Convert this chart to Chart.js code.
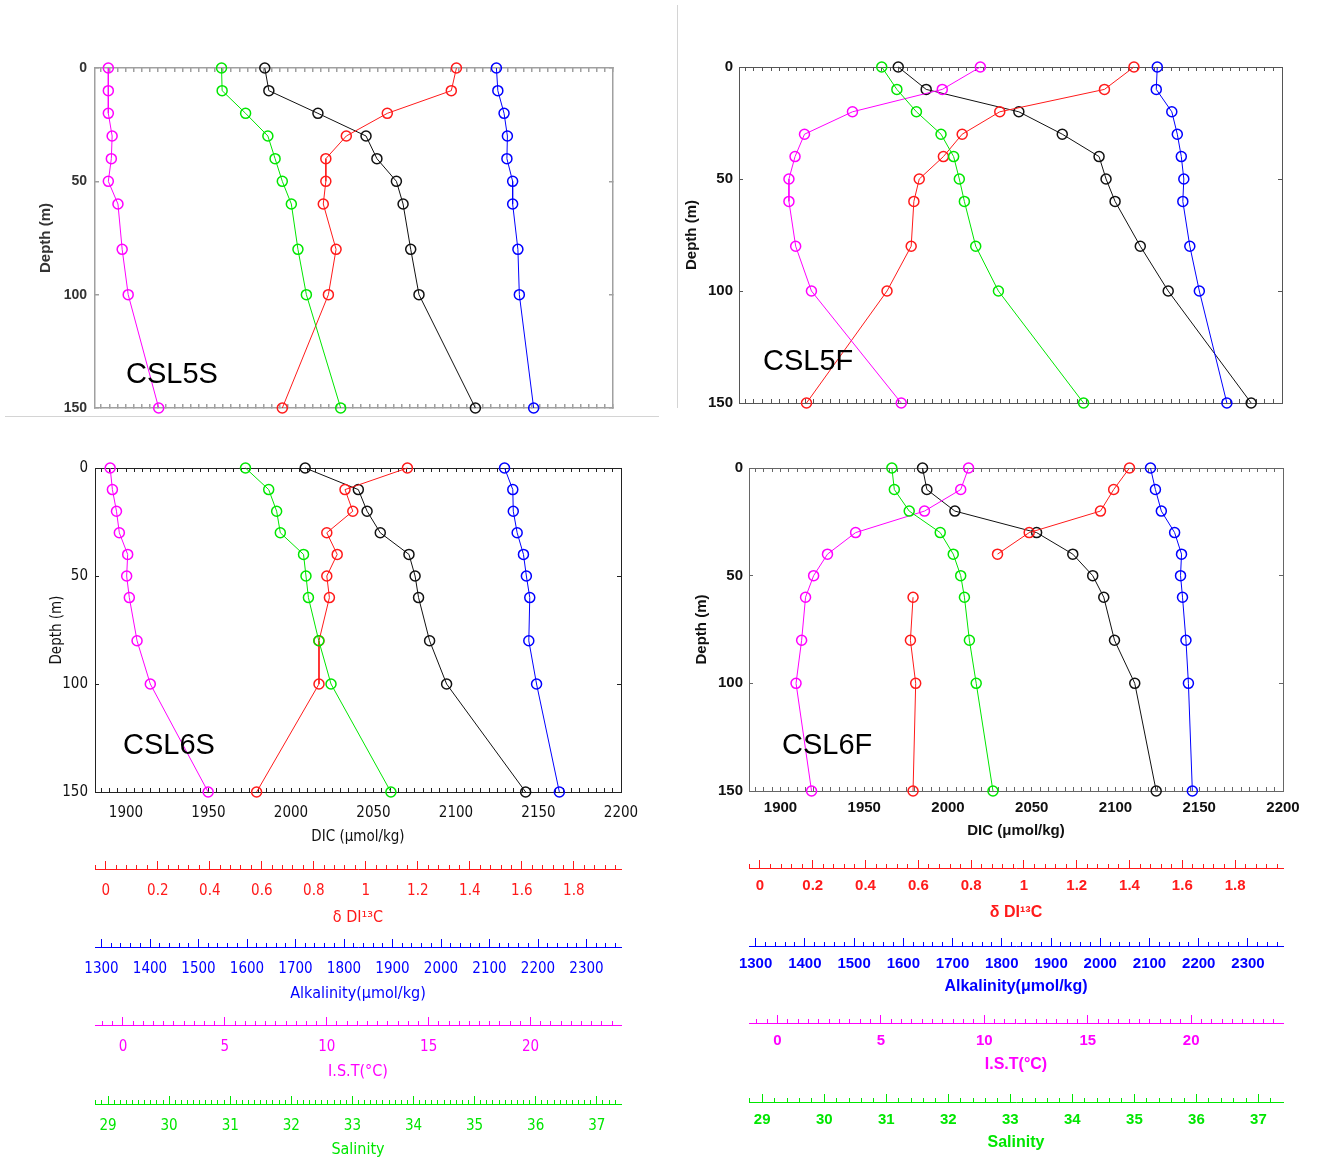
<!DOCTYPE html>
<html>
<head>
<meta charset="utf-8">
<title>CSL depth profiles</title>
<script src="https://cdn.jsdelivr.net/npm/chart.js@4.4.1/dist/chart.umd.min.js"></script>
<style>
  body { margin: 0; background: #fff; width: 1319px; height: 1165px; position: relative; overflow: hidden; }
  canvas { position: absolute; }
  .tag { position: absolute; font-family: 'Liberation Sans', Arial, sans-serif; font-size: 29px; line-height: 1; color: #000; }
  .rule { position: absolute; background: #d4d4d4; }
</style>
</head>
<body>
<div class="rule" style="left:5px;top:416px;width:654px;height:1px"></div>
<div class="rule" style="left:677px;top:5px;width:1px;height:403px"></div>

<canvas id="p5s" width="640" height="390" style="left:0;top:40px"></canvas>
<canvas id="p5f" width="659" height="390" style="left:660px;top:40px"></canvas>
<canvas id="p6s" width="660" height="410" style="left:0;top:440px"></canvas>
<canvas id="p6f" width="659" height="410" style="left:660px;top:440px"></canvas>

<canvas id="aL1" width="650" height="70" style="left:0;top:859px"></canvas>
<canvas id="aL2" width="650" height="70" style="left:0;top:937px"></canvas>
<canvas id="aL3" width="650" height="70" style="left:0;top:1015px"></canvas>
<canvas id="aL4" width="650" height="70" style="left:0;top:1094px"></canvas>
<canvas id="aR1" width="659" height="70" style="left:660px;top:858px"></canvas>
<canvas id="aR2" width="659" height="70" style="left:660px;top:936px"></canvas>
<canvas id="aR3" width="659" height="70" style="left:660px;top:1013px"></canvas>
<canvas id="aR4" width="659" height="70" style="left:660px;top:1092px"></canvas>

<div class="tag" style="left:126px;top:359px">CSL5S</div>
<div class="tag" style="left:763px;top:346px">CSL5F</div>
<div class="tag" style="left:123px;top:730px">CSL6S</div>
<div class="tag" style="left:782px;top:730px">CSL6F</div>

<script>
// profundidades de muestreo (m)
const depths = [0, 10, 20, 30, 40, 50, 60, 80, 100, 150];

// CSL5S
const dic5S  = [1985.7, 1988.2, 2018.4, 2048.0, 2054.7, 2066.7, 2070.8, 2075.5, 2080.6, 2115.3];
const d13c5S = [1.37, 1.35, 1.10, 0.94, 0.86, 0.86, 0.85, 0.90, 0.87, 0.69];
const alk5S  = [2127, 2130, 2143, 2150, 2149, 2161, 2161, 2172, 2175, 2205];
const ist5S  = [-0.71, -0.71, -0.71, -0.52, -0.56, -0.71, -0.23, -0.02, 0.28, 1.80];
const sal5S  = [30.89, 30.90, 31.29, 31.66, 31.78, 31.90, 32.05, 32.16, 32.30, 32.87];

// CSL5F
const dic5F  = [1974.7, 1991.1, 2045.5, 2071.0, 2092.6, 2096.7, 2102.0, 2116.8, 2133.2, 2181.9];
const d13c5F = [1.43, 1.32, 0.93, 0.79, 0.72, 0.63, 0.61, 0.60, 0.51, 0.21];
const alk5F  = [2122, 2120, 2151, 2162, 2170, 2175, 2173, 2187, 2206, 2261];
const ist5F  = [10.10, 8.29, 4.02, 1.74, 1.29, 1.00, 1.00, 1.32, 2.07, 6.34];
const sal5F  = [31.05, 31.29, 31.60, 31.99, 32.19, 32.28, 32.36, 32.54, 32.90, 34.25];

// CSL6S
const dic6S  = [2008.6, 2040.8, 2046.1, 2054.1, 2071.5, 2075.2, 2077.3, 2084.0, 2094.3, 2142.2];
const d13c6S = [1.16, 0.92, 0.95, 0.85, 0.89, 0.85, 0.86, 0.82, 0.82, 0.58];
const alk6S  = [2131, 2148, 2149, 2157, 2170, 2176, 2183, 2181, 2197, 2244];
const ist6S  = [-0.63, -0.52, -0.32, -0.18, 0.23, 0.18, 0.31, 0.69, 1.34, 4.18];
const sal6S  = [31.25, 31.63, 31.76, 31.82, 32.20, 32.24, 32.28, 32.45, 32.65, 33.63];

// CSL6F (sin dato de d13C a 50 m)
const dic6F  = [1984.8, 1987.4, 2004.1, 2052.9, 2074.5, 2086.4, 2093.0, 2099.4, 2111.5, 2124.3];
const d13c6F = [1.40, 1.34, 1.29, 1.02, 0.90, null, 0.58, 0.57, 0.59, 0.58];
const alk6F  = [2102, 2112, 2124, 2151, 2165, 2163, 2167, 2174, 2179, 2187];
const ist6F  = [9.24, 8.86, 7.11, 3.78, 2.42, 1.75, 1.36, 1.17, 0.90, 1.65];
const sal6F  = [31.09, 31.13, 31.37, 31.87, 32.08, 32.20, 32.26, 32.34, 32.45, 32.72];

// rangos de los ejes (comunes a los cuatro paneles)
const dicRange  = [1881.2, 2200];
const d13cRange = [-0.0415, 1.9815];
const alkRange  = [1286.6, 2371.1];
const istRange  = [-1.374, 24.44];
const salRange  = [28.787, 37.396];

const RED = '#ff1a1a', BLUE = '#0000ff', MAG = '#ff00ff', GREEN = '#00e600', BLACK = '#111111';
const BOLD = "'Liberation Sans', Arial, sans-serif";
const NARROW = "'Liberation Sans Narrow', 'DejaVu Sans Condensed', sans-serif";

function isMajor(v, step) {
  return Math.abs(v / step - Math.round(v / step)) < 1e-6;
}
function fmt(v) {
  return String(Math.round(v * 1000) / 1000);
}

function series(label, values, color, axis) {
  return {
    label: label,
    data: values.map((v, i) => ({ x: v, y: depths[i] })),
    xAxisID: axis,
    showLine: true,
    spanGaps: false,
    clip: false,
    borderColor: color,
    borderWidth: 1,
    pointStyle: 'circle',
    pointRadius: 5,
    pointBorderWidth: 1.5,
    pointBorderColor: color,
    pointBackgroundColor: 'rgba(0,0,0,0)'
  };
}

function hiddenAxis(range) {
  return { type: 'linear', display: false, min: range[0], max: range[1] };
}

// Panel de perfiles vs profundidad
function depthPanel(id, data, look) {
  const frame = { color: look.frame, width: look.frameWidth };
  const tickGrid = { drawOnChartArea: false, drawTicks: true, tickLength: -4, tickColor: look.frame, lineWidth: look.frameWidth };
  new Chart(document.getElementById(id), {
    type: 'scatter',
    data: {
      datasets: [
        series('Salinity', data.sal, GREEN, 'xs'),
        series('I.S.T', data.ist, MAG, 'xi'),
        series('Alkalinity', data.alk, BLUE, 'xa'),
        series('dDI13C', data.d13c, RED, 'xd'),
        series('DIC', data.dic, BLACK, 'x')
      ]
    },
    options: {
      responsive: false,
      animation: false,
      events: [],
      layout: { padding: { left: 0, top: look.pad.top, right: look.pad.right - 25, bottom: look.pad.bottom } },
      plugins: { legend: { display: false }, tooltip: { enabled: false } },
      scales: {
        x: {
          type: 'linear', position: 'bottom', min: dicRange[0], max: dicRange[1],
          afterFit: sc => { sc.height = look.xHeight; },
          border: frame,
          grid: tickGrid,
          ticks: {
            display: look.showX, stepSize: 5, autoSkip: false, maxRotation: 0, includeBounds: false,
            padding: look.xPad, color: look.text, font: look.font,
            callback: v => isMajor(v, 50) ? fmt(v) : ''
          },
          title: {
            display: look.showX, text: 'DIC (μmol/kg)', color: look.text, font: look.font,
            padding: { top: 0, bottom: look.xTitlePad }
          }
        },
        xt: {
          type: 'linear', position: 'top', min: dicRange[0], max: dicRange[1],
          afterFit: sc => { sc.height = 0; },
          border: frame,
          grid: tickGrid,
          ticks: { display: false, stepSize: 5, autoSkip: false, includeBounds: false }
        },
        xd: hiddenAxis(d13cRange),
        xa: hiddenAxis(alkRange),
        xi: hiddenAxis(istRange),
        xs: hiddenAxis(salRange),
        y: {
          type: 'linear', position: 'left', reverse: true, min: 0, max: 150,
          afterFit: sc => { sc.width = look.yWidth; },
          border: frame,
          grid: tickGrid,
          ticks: { stepSize: 50, padding: look.yPad, color: look.text, font: look.font },
          title: {
            display: true, text: 'Depth (m)', color: look.text, font: look.titleFont || look.font,
            padding: { top: look.yTitlePad, bottom: 0 }
          }
        },
        y2: {
          type: 'linear', position: 'right', reverse: true, min: 0, max: 150,
          afterFit: sc => { sc.width = 25; },
          border: frame,
          grid: tickGrid,
          ticks: { display: false, stepSize: 50 }
        }
      }
    }
  });
}

// Eje suelto de abajo (d13C, alcalinidad, temperatura, salinidad)
function axisStrip(id, cfg) {
  new Chart(document.getElementById(id), {
    type: 'scatter',
    data: { datasets: [] },
    options: {
      responsive: false,
      animation: false,
      events: [],
      layout: { padding: { left: cfg.left, right: cfg.right, top: 2, bottom: 0 } },
      plugins: { legend: { display: false }, tooltip: { enabled: false } },
      scales: {
        x: {
          type: 'linear', position: 'bottom', min: cfg.range[0], max: cfg.range[1],
          afterFit: sc => { sc.height = 60; },
          border: { color: cfg.color, width: 1 },
          grid: {
            drawOnChartArea: true, drawTicks: true, tickLength: -4, tickColor: cfg.color, lineWidth: 1,
            color: c => (c.tick && isMajor(c.tick.value, cfg.major)) ? cfg.color : 'rgba(0,0,0,0)'
          },
          ticks: {
            stepSize: cfg.minor, autoSkip: false, maxRotation: 0, includeBounds: false,
            padding: cfg.pad, color: cfg.color, font: cfg.font,
            callback: v => isMajor(v, cfg.major) ? fmt(v) : ''
          },
          title: {
            display: true, text: cfg.title, color: cfg.color, font: cfg.titleFont,
            padding: { top: 0, bottom: cfg.titlePad }
          }
        },
        y: { display: false, min: 0, max: 1 }
      }
    }
  });
}

depthPanel('p5s', { dic: dic5S, d13c: d13c5S, alk: alk5S, ist: ist5S, sal: sal5S }, {
  frame: '#a0a0a0', frameWidth: 1.5, text: '#333', font: { family: BOLD, size: 14, weight: 'bold' },
  titleFont: { family: BOLD, size: 15, weight: 'bold' },
  pad: { top: 28, right: 27, bottom: 22 }, xHeight: 0, yWidth: 95,
  showX: false, xPad: 0, xTitlePad: 0, yPad: 12, yTitlePad: 37
});
depthPanel('p5f', { dic: dic5F, d13c: d13c5F, alk: alk5F, ist: ist5F, sal: sal5F }, {
  frame: '#555', frameWidth: 1, text: '#111', font: { family: BOLD, size: 15, weight: 'bold' },
  pad: { top: 27, right: 37, bottom: 27 }, xHeight: 0, yWidth: 79,
  showX: false, xPad: 0, xTitlePad: 0, yPad: 10, yTitlePad: 23
});
depthPanel('p6s', { dic: dic6S, d13c: d13c6S, alk: alk6S, ist: ist6S, sal: sal6S }, {
  frame: '#222', frameWidth: 1, text: '#111', font: { family: NARROW, size: 15 },
  pad: { top: 28, right: 39, bottom: 0 }, xHeight: 58, yWidth: 95,
  showX: true, xPad: 16, xTitlePad: 4, yPad: 11, yTitlePad: 48
});
depthPanel('p6f', { dic: dic6F, d13c: d13c6F, alk: alk6F, ist: ist6F, sal: sal6F }, {
  frame: '#666', frameWidth: 1, text: '#111', font: { family: BOLD, size: 15, weight: 'bold' },
  pad: { top: 28, right: 36, bottom: 0 }, xHeight: 59, yWidth: 89,
  showX: true, xPad: 12, xTitlePad: 10, yPad: 10, yTitlePad: 33
});

const narrowFont = { family: NARROW, size: 15 };
const narrowTitle = { family: NARROW, size: 16 };
const boldFont = { family: BOLD, size: 15, weight: 'bold' };
const boldTitle = { family: BOLD, size: 16, weight: 'bold' };

// columna izquierda
axisStrip('aL1', { left: 95, right: 29, range: d13cRange, minor: 0.04, major: 0.2, color: RED, title: 'δ DI¹³C', font: narrowFont, titleFont: narrowTitle, pad: 17, titlePad: 1.4 });
axisStrip('aL2', { left: 95, right: 29, range: alkRange, minor: 20, major: 100, color: BLUE, title: 'Alkalinity(μmol/kg)', font: narrowFont, titleFont: narrowTitle, pad: 17, titlePad: 3.4 });
axisStrip('aL3', { left: 95, right: 29, range: istRange, minor: 0.5, major: 5, color: MAG, title: 'I.S.T(°C)', font: narrowFont, titleFont: narrowTitle, pad: 17, titlePad: 3.4 });
axisStrip('aL4', { left: 95, right: 29, range: salRange, minor: 0.1, major: 1, color: GREEN, title: 'Salinity', font: narrowFont, titleFont: narrowTitle, pad: 17, titlePad: 4.4 });

// columna derecha
axisStrip('aR1', { left: 89, right: 36, range: d13cRange, minor: 0.04, major: 0.2, color: RED, title: 'δ DI¹³C', font: boldFont, titleFont: boldTitle, pad: 13, titlePad: 5.4 });
axisStrip('aR2', { left: 89, right: 36, range: alkRange, minor: 20, major: 100, color: BLUE, title: 'Alkalinity(μmol/kg)', font: boldFont, titleFont: boldTitle, pad: 13, titlePad: 9.4 });
axisStrip('aR3', { left: 89, right: 36, range: istRange, minor: 0.5, major: 5, color: MAG, title: 'I.S.T(°C)', font: boldFont, titleFont: boldTitle, pad: 13, titlePad: 8.4 });
axisStrip('aR4', { left: 89, right: 36, range: salRange, minor: 0.2, major: 1, color: GREEN, title: 'Salinity', font: boldFont, titleFont: boldTitle, pad: 13, titlePad: 9.4 });
</script>
</body>
</html>
